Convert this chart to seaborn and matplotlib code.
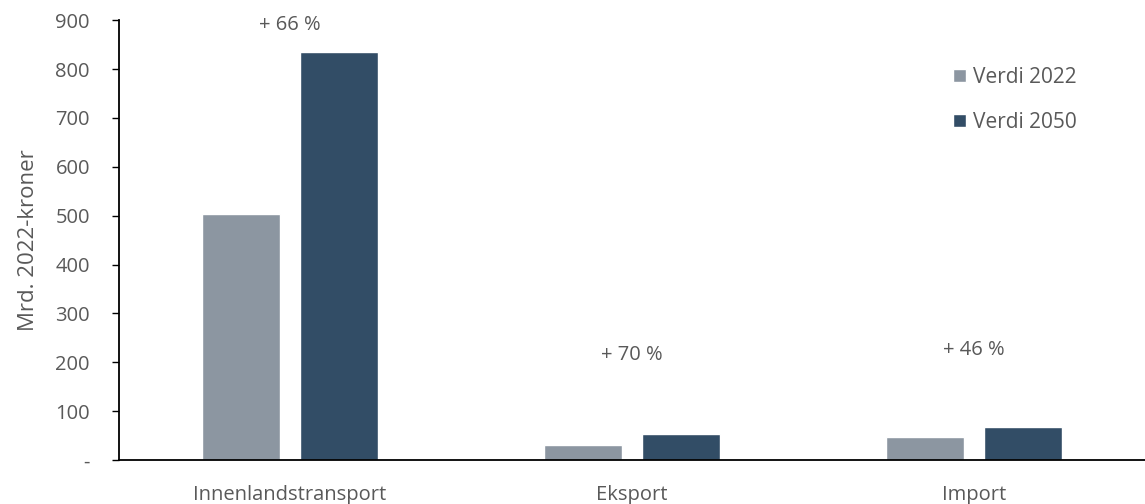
import matplotlib
matplotlib.use("Agg")
import matplotlib.pyplot as plt
import seaborn as sns
import pandas as pd

categories = ["Innenlandstransport", "Eksport", "Import"]
verdi_2022 = [503, 32, 47]
verdi_2050 = [835, 54.4, 68.6]
series_names = ["Verdi 2022", "Verdi 2050"]
growth_labels = ["+ 66 %", "+ 70 %", "+ 46 %"]
growth_label_y = [890, 215, 225]
y_ticks = [0, 100, 200, 300, 400, 500, 600, 700, 800, 900]
y_tick_labels = ["-", "100", "200", "300", "400", "500", "600", "700", "800", "900"]

sns.set_theme(style="white")
plt.rcParams["font.family"] = ["Open Sans", "DejaVu Sans"]

df = pd.DataFrame({
    "Kategori": categories * 2,
    "Serie": [series_names[0]] * 3 + [series_names[1]] * 3,
    "Verdi": verdi_2022 + verdi_2050,
})

text_color = "#595959"
fig = plt.figure(figsize=(11.45, 5.04), dpi=100)
ax = fig.add_axes([0.104, 0.087, 0.896, 0.873])

sns.barplot(data=df, x="Kategori", y="Verdi", hue="Serie", order=categories,
            hue_order=series_names, palette=["#8C96A1", "#324D66"],
            width=0.57, gap=0.2, saturation=1, errorbar=None, ax=ax)

for i, (lab, yy) in enumerate(zip(growth_labels, growth_label_y)):
    ax.text(i, yy, lab, ha="center", va="center", fontsize=14.5, color=text_color)

ax.set_xlim(-0.5, 2.5)
ax.set_ylim(0, 900)
ax.set_yticks(y_ticks)
ax.set_yticklabels(y_tick_labels)
ax.set_xlabel("")
ax.set_ylabel("Mrd. 2022-kroner", fontsize=16, color=text_color, labelpad=12)

for s in ["top", "right"]:
    ax.spines[s].set_visible(False)
for s in ["left", "bottom"]:
    ax.spines[s].set_color("black")
    ax.spines[s].set_linewidth(1.3)

ax.tick_params(axis="y", which="major", left=True, length=5, width=1, color="black",
               labelsize=14.5, labelcolor=text_color, pad=16)
ax.tick_params(axis="x", bottom=False, labelsize=14.5, labelcolor=text_color, pad=12)

leg = ax.legend(loc="upper left", bbox_to_anchor=(0.795, 0.937), frameon=False,
                fontsize=15, handlelength=0.6, handleheight=0.6, handletextpad=0.35,
                labelspacing=1.15, labelcolor=text_color)

fig.savefig("out.png", dpi=100)
